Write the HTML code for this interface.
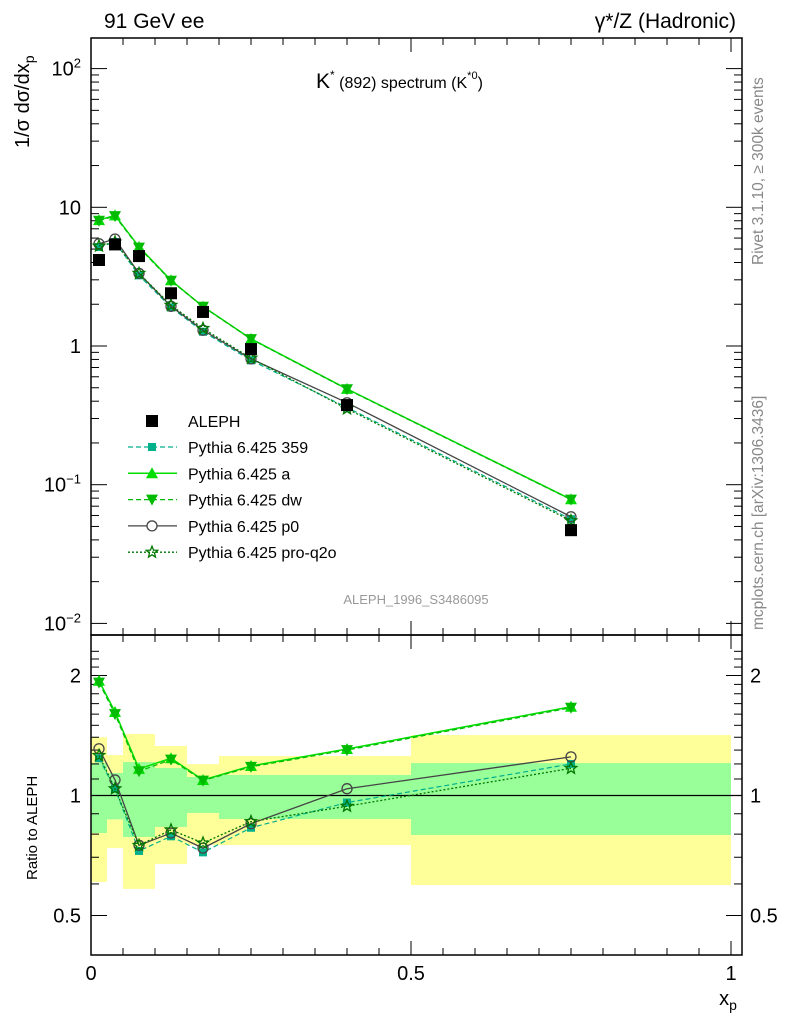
<!DOCTYPE html>
<html><head><meta charset="utf-8"><style>
body{margin:0;background:#fff}
svg{display:block;font-family:"Liberation Sans",sans-serif}
</style></head><body>
<svg id="c" width="786" height="1024"></svg>
<script>
const xs=[0.0125,0.0375,0.075,0.125,0.175,0.25,0.4,0.75];
const aleph=[4.17,5.4,4.45,2.4,1.76,0.95,0.375,0.047];
const rA=[1.94,1.62,1.166,1.24,1.094,1.186,1.308,1.67];
const rDW=[1.92,1.60,1.15,1.23,1.09,1.18,1.30,1.66];
const rP0=[1.31,1.094,0.75,0.805,0.738,0.85,1.04,1.25];
const r359=[1.24,1.04,0.726,0.79,0.72,0.83,0.96,1.2];
const rPQ=[1.26,1.04,0.75,0.82,0.76,0.86,0.94,1.17];
const binEdges=[0,0.025,0.05,0.1,0.15,0.2,0.3,0.5,1.0];
const yelHi=[1.40,1.263,1.427,1.331,1.199,1.256,1.256,1.418];
const yelLo=[0.607,0.738,0.583,0.673,0.751,0.751,0.751,0.596];
const grnHi=[1.206,1.139,1.213,1.172,1.113,1.126,1.126,1.206];
const grnLo=[0.805,0.871,0.787,0.834,0.904,0.873,0.873,0.796];
const NS='http://www.w3.org/2000/svg';
const svg=document.getElementById('c');
function el(t,a,p){const e=document.createElementNS(NS,t);for(const k in a)e.setAttribute(k,a[k]);(p||svg).appendChild(e);return e;}
const X=v=>91+v*640;
const Y=v=>346-Math.log10(v)*138.7;
const R=v=>795.5-Math.log2(v)*120;
const L=91,Rt=742,T=38,M=635,B=955;
for(let i=0;i<8;i++){
 let e=el('rect',{x:X(binEdges[i]),y:R(yelHi[i]),width:X(binEdges[i+1])-X(binEdges[i]),height:R(yelLo[i])-R(yelHi[i]),fill:'#ffff99'});
 
 let g=el('rect',{x:X(binEdges[i]),y:R(grnHi[i]),width:X(binEdges[i+1])-X(binEdges[i]),height:R(grnLo[i])-R(grnHi[i]),fill:'#99ff99'});
 
}
el('line',{x1:L,x2:Rt,y1:R(1),y2:R(1),stroke:'#000','stroke-width':1.2});
el('rect',{x:L,y:T,width:Rt-L,height:M-T,fill:'none',stroke:'#000','stroke-width':1.5});
el('rect',{x:L,y:M,width:Rt-L,height:B-M,fill:'none',stroke:'#000','stroke-width':1.5});
for(let i=0;i<=20;i++){const v=i*0.05,x=X(v),len=(i%10==0)?14:7;
 for(const [y0,d] of [[B,-1],[M,-1],[M,1],[T,1]]) el('line',{x1:x,x2:x,y1:y0,y2:y0+d*len,stroke:'#000','stroke-width':1});}
[[0,'0'],[0.5,'0.5'],[1,'1']].forEach(([v,s])=>{const t=el('text',{x:X(v),y:980,'font-size':20,'text-anchor':'middle'});t.textContent=s;});
let xt=el('text',{x:728,y:1005,'font-size':20,'text-anchor':'middle'});xt.innerHTML='x<tspan font-size="14" dy="5">p</tspan>';
for(let d=-2;d<=2;d++){for(let m=1;m<10;m++){const v=m*Math.pow(10,d),y=Y(v);if(y<T||y>M)continue;const len=m==1?16:8;
 el('line',{x1:L,x2:L+len,y1:y,y2:y,stroke:'#000'});el('line',{x1:Rt,x2:Rt-len,y1:y,y2:y,stroke:'#000'});}}
const ylab=[[100,'10<tspan dy="-8" font-size="13">2</tspan>'],[10,'10'],[1,'1'],[0.1,'10<tspan dy="-8" font-size="13">−1</tspan>'],[0.01,'10<tspan dy="-8" font-size="13">−2</tspan>']];
ylab.forEach(([v,s])=>{const t=el('text',{x:81,y:Y(v)+7,'font-size':20,'text-anchor':'end'});t.innerHTML=s;});
const rt=[0.5,0.6,0.7,0.8,0.9,1,1.1,1.2,1.3,1.4,1.5,1.6,1.7,1.8,1.9,2,2.1,2.2,2.3];
rt.forEach(v=>{const y=R(v);if(y<M||y>B)return;const len=(v==0.5||v==1||v==2)?16:8;
 el('line',{x1:L,x2:L+len,y1:y,y2:y,stroke:'#000'});el('line',{x1:Rt,x2:Rt-len,y1:y,y2:y,stroke:'#000'});});
[[2,'2'],[1,'1'],[0.5,'0.5']].forEach(([v,s])=>{for(const [x,a] of [[81,'end'],[750,'start']]){const t=el('text',{x:x,y:R(v)+7,'font-size':20,'text-anchor':a});t.textContent=s;}});
let t1=el('text',{x:104,y:28,'font-size':21});t1.textContent='91 GeV ee';
let t2=el('text',{x:736,y:28,'font-size':21,'text-anchor':'end'});t2.innerHTML='γ*/Z (Hadronic)';
let t3=el('text',{x:316,y:88,'font-size':21});t3.innerHTML='K<tspan dy="-9" font-size="12">*</tspan><tspan dy="9" font-size="16"> (892) spectrum (K</tspan><tspan dy="-9" font-size="11">*0</tspan><tspan dy="9" font-size="16">)</tspan>';
let yt=el('text',{transform:'translate(29,148) rotate(-90)','font-size':20});yt.innerHTML='1/σ dσ/dx<tspan font-size="14" dy="5">p</tspan>';
let rt2=el('text',{transform:'translate(37,880) rotate(-90)','font-size':15});rt2.textContent='Ratio to ALEPH';
let s1=el('text',{transform:'translate(763,265) rotate(-90)','font-size':15.5,fill:'#888'});s1.textContent='Rivet 3.1.10, ≥ 300k events';
let s2=el('text',{transform:'translate(763,630) rotate(-90)','font-size':15.5,fill:'#888'});s2.textContent='mcplots.cern.ch [arXiv:1306.3436]';
let s3=el('text',{x:416,y:604,'font-size':13,fill:'#999','text-anchor':'middle'});s3.textContent='ALEPH_1996_S3486095';
function marker(type,x,y,col,g){
 if(type=='sq') return el('rect',{x:x-4,y:y-4,width:8,height:8,fill:col},g);
 if(type=='bsq') return el('rect',{x:x-6,y:y-6,width:12,height:12,fill:'#000'},g);
 if(type=='up') return el('polygon',{points:`${x},${y-6} ${x-6},${y+5} ${x+6},${y+5}`,fill:col},g);
 if(type=='dn') return el('polygon',{points:`${x},${y+6} ${x-6},${y-5} ${x+6},${y-5}`,fill:col},g);
 if(type=='circ') return el('circle',{cx:x,cy:y,r:5,fill:'none',stroke:col,'stroke-width':1.3},g);
 if(type=='star'){let p=[];for(let i=0;i<10;i++){const r=i%2?2.6:6,a=-Math.PI/2+i*Math.PI/5;p.push((x+r*Math.cos(a)).toFixed(1)+','+(y+r*Math.sin(a)).toFixed(1));}
  return el('polygon',{points:p.join(' '),fill:'none',stroke:col,'stroke-width':1.3},g);}
}
const series=[
 {n:'Pythia 6.425 359',r:r359,c:'#00b08a',dash:'5,3',m:'sq',w:1.2},
 {n:'Pythia 6.425 a',r:rA,c:'#00dd00',dash:'',m:'up',w:1.5},
 {n:'Pythia 6.425 dw',r:rDW,c:'#00bb00',dash:'5,3',m:'dn',w:1.2},
 {n:'Pythia 6.425 p0',r:rP0,c:'#444',dash:'',m:'circ',w:1.3},
 {n:'Pythia 6.425 pro-q2o',r:rPQ,c:'#007700',dash:'2,2',m:'star',w:1.3},
];
series.forEach(s=>{
 const g=el('g',{});
 const pm=xs.map((x,i)=>X(x)+','+Y(aleph[i]*s.r[i])).join(' ');
 const pr=xs.map((x,i)=>X(x)+','+R(s.r[i])).join(' ');
 el('polyline',{points:pm,fill:'none',stroke:s.c,'stroke-width':s.w,'stroke-dasharray':s.dash},g);
 el('polyline',{points:pr,fill:'none',stroke:s.c,'stroke-width':s.w,'stroke-dasharray':s.dash},g);
 xs.forEach((x,i)=>{marker(s.m,X(x),Y(aleph[i]*s.r[i]),s.c,g);marker(s.m,X(x),R(s.r[i]),s.c,g);});
});
const ga=el('g',{});
xs.forEach((x,i)=>marker('bsq',X(x),Y(aleph[i]),'#000',ga));
const lg=el('g',{});
let ly=421;
marker('bsq',152,ly,'#000',lg);
let lt=el('text',{x:188,y:ly+6,'font-size':16},lg);lt.textContent='ALEPH';
series.forEach((s,i)=>{const y=447+i*26.3;
 el('line',{x1:128,x2:177,y1:y,y2:y,stroke:s.c,'stroke-width':s.w,'stroke-dasharray':s.dash},lg);
 const mm=marker(s.m,152,y,s.c,lg);if(s.m=='circ')mm.setAttribute('fill','#fff');
 const t=el('text',{x:188,y:y+6,'font-size':16},lg);t.textContent=s.n;
 });
</script>
</body></html>
